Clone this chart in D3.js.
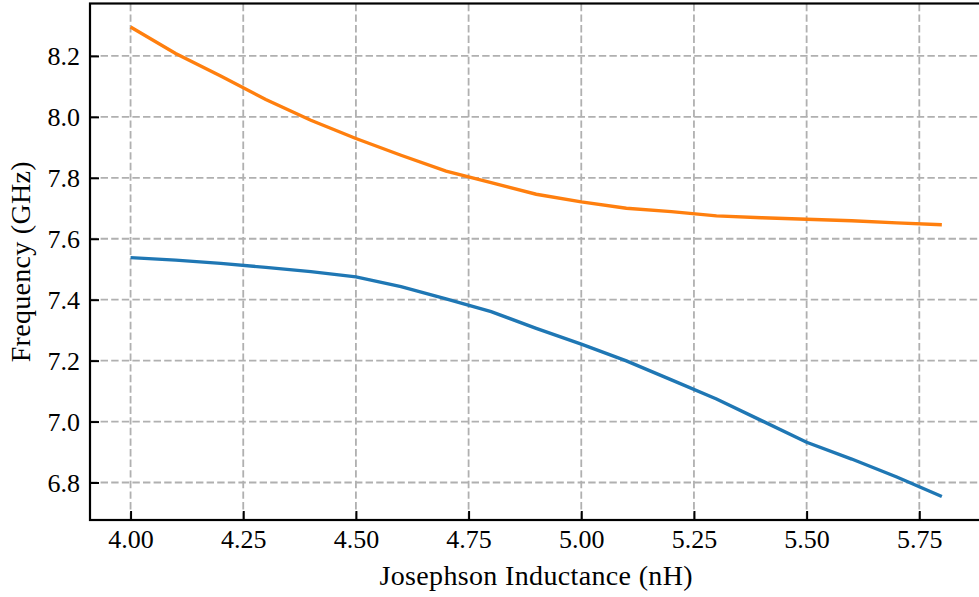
<!DOCTYPE html>
<html>
<head>
<meta charset="utf-8">
<script src="https://cdn.jsdelivr.net/npm/d3@7"></script>
<style>
  body { margin: 0; background: #fff; }
  svg { display: block; }
  text { font-family: "Liberation Serif", "Times New Roman", serif; fill: #000; }
</style>
</head>
<body>
<div id="chart"></div>
<script>
// inductance values (nH)
const inductance = [4.0, 4.1, 4.2, 4.3, 4.4, 4.5, 4.6, 4.7, 4.8, 4.9,
                    5.0, 5.1, 5.2, 5.3, 5.4, 5.5, 5.6, 5.7, 5.8]
// lower mode (GHz)
const lowerMode = [7.538, 7.530, 7.519, 7.506, 7.492, 7.475, 7.443, 7.403, 7.361, 7.306,
                   7.254, 7.199, 7.137, 7.074, 7.003, 6.932, 6.877, 6.818, 6.754]
// upper mode (GHz)
const upperMode = [8.295, 8.208, 8.134, 8.057, 7.989, 7.929, 7.874, 7.822, 7.784, 7.746,
                   7.721, 7.700, 7.689, 7.675, 7.669, 7.664, 7.659, 7.652, 7.646]
const xTicks = [4.00, 4.25, 4.50, 4.75, 5.00, 5.25, 5.50, 5.75]
const yTicks = [6.8, 7.0, 7.2, 7.4, 7.6, 7.8, 8.0, 8.2]

var width = 979,
    height = 597
var plotL = 90, plotR = 982.4, plotT = 3.5, plotB = 520

var svg = d3.select("#chart").append("svg")
    .attr("width", width)
    .attr("height", height)

// matplotlib style 5% margins
var xExt = d3.extent(inductance)
var xPad = (xExt[1] - xExt[0]) * 0.05
var x = d3.scaleLinear()
    .domain([xExt[0] - xPad, xExt[1] + xPad])
    .range([plotL, plotR])

var yExt = d3.extent(lowerMode.concat(upperMode))
var yPad = (yExt[1] - yExt[0]) * 0.05
var y = d3.scaleLinear()
    .domain([yExt[0] - yPad, yExt[1] + yPad])
    .range([plotB, plotT])

// grid
const grid = svg.append("g")
grid.selectAll(".vgrid")
    .data(xTicks)
    .enter()
    .append("line")
    .attr("x1", d => x(d)).attr("x2", d => x(d))
    .attr("y1", plotB).attr("y2", plotT)
    .style("stroke", "#b0b0b0")
    .style("stroke-width", 1.8)
    .style("stroke-dasharray", "7.4,3.2")
grid.selectAll(".hgrid")
    .data(yTicks)
    .enter()
    .append("line")
    .attr("x1", plotL).attr("x2", plotR)
    .attr("y1", d => y(d)).attr("y2", d => y(d))
    .style("stroke", "#b0b0b0")
    .style("stroke-width", 1.8)
    .style("stroke-dasharray", "7.4,3.2")

// curves
var line = d3.line()
    .x((d, i) => x(inductance[i]))
    .y(d => y(d))

svg.append("path")
    .datum(lowerMode)
    .attr("d", line)
    .attr("fill", "none")
    .style("stroke", "#1f77b4")
    .style("stroke-width", 3.4)

svg.append("path")
    .datum(upperMode)
    .attr("d", line)
    .attr("fill", "none")
    .style("stroke", "#ff7f0e")
    .style("stroke-width", 3.4)

// axes, ticks pointing in
var xAxis = svg.append("g")
    .attr("transform", "translate(0," + plotB + ")")
    .call(d3.axisBottom(x).tickValues(xTicks).tickFormat(d3.format(".2f"))
        .tickSizeInner(-9).tickSizeOuter(0))
xAxis.select(".domain").remove()
xAxis.selectAll(".tick line").style("stroke", "#000").style("stroke-width", 2)
xAxis.selectAll(".tick text")
    .attr("y", 28).attr("dy", 0)
    .style("font-size", "26px")
    .style("font-family", "Liberation Serif, serif")

var yAxis = svg.append("g")
    .attr("transform", "translate(" + plotL + ",0)")
    .call(d3.axisLeft(y).tickValues(yTicks).tickFormat(d3.format(".1f"))
        .tickSizeInner(-9).tickSizeOuter(0))
yAxis.select(".domain").remove()
yAxis.selectAll(".tick line").style("stroke", "#000").style("stroke-width", 2)
yAxis.selectAll(".tick text")
    .attr("x", -10).attr("dy", "0.33em")
    .style("font-size", "26px")
    .style("font-family", "Liberation Serif, serif")

// spines (right one falls outside the picture)
svg.append("rect")
    .attr("x", plotL).attr("y", plotT)
    .attr("width", plotR - plotL).attr("height", plotB - plotT)
    .attr("fill", "none")
    .style("stroke", "#000")
    .style("stroke-width", 2.2)

// labels
svg.append("text")
    .attr("x", (plotL + plotR) / 2)
    .attr("y", 585)
    .attr("text-anchor", "middle")
    .style("font-size", "28px")
    .style("letter-spacing", "0.35px")
    .text("Josephson Inductance (nH)")

svg.append("text")
    .attr("transform", "translate(30," + (plotT + plotB) / 2 + ") rotate(-90)")
    .attr("text-anchor", "middle")
    .style("font-size", "28px")
    .style("letter-spacing", "0.3px")
    .text("Frequency (GHz)")
</script>
</body>
</html>
